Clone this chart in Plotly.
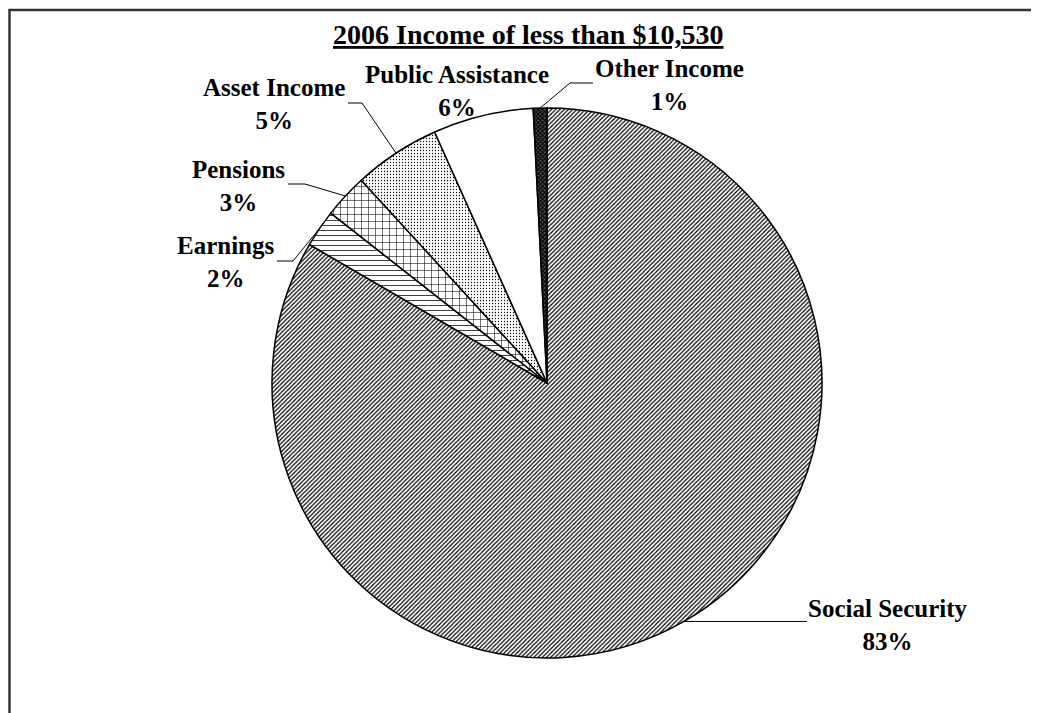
import math
import plotly.graph_objects as go

# ---- data ----
categories = ["Social Security", "Earnings", "Pensions", "Asset Income", "Public Assistance", "Other Income"]
values = [83.4, 2.2, 2.6, 5.1, 5.9, 0.8]
title_text = "2006 Income of less than $10,530"

# ---- layout constants (page pixels) ----
W, H = 1039, 713
OFF = 8  # default body margin of the html page
CX, CY, R = 547, 383, 275
FONT = "Liberation Serif"

def px_x(x):
    return (x - OFF) / W

def px_y(y):
    return 1 - (y - OFF) / H

# label block centres and leader elbows/ends (page pixel space)
label_pos = {
    "Social Security": dict(x=888, y=625, elbow=None, end=(807, None)),
    "Earnings": dict(x=226, y=262, elbow=(293, 261), end=(277, 261)),
    "Pensions": dict(x=238, y=186, elbow=(305, 184), end=(288, 184)),
    "Asset Income": dict(x=274, y=104, elbow=(362, 103), end=(348, 103)),
    "Public Assistance": dict(x=457, y=91, elbow=None, end=None),
    "Other Income": dict(x=669, y=85, elbow=(570, 83), end=(593, 83)),
}

pattern_shape = ["/", "-", "+", ".", "", "x"]
pattern_size = [3, 5, 7, 3, 8, 3]
pattern_solid = [0.4, 0.15, 0.15, 0.15, 0.0, 0.6]
fg = ["black", "black", "black", "black", "black", "black"]
bg = ["white", "white", "white", "white", "white", "#555555"]

fig = go.Figure()
fig.add_trace(go.Pie(
    labels=categories,
    values=values,
    sort=False,
    direction="clockwise",
    rotation=0,
    textinfo="none",
    hoverinfo="label+percent",
    showlegend=False,
    marker=dict(
        colors=bg,
        line=dict(color="black", width=1.5),
        pattern=dict(shape=pattern_shape, size=pattern_size, solidity=pattern_solid,
                     fgcolor=fg, bgcolor=bg, fillmode="replace"),
    ),
    domain=dict(x=[px_x(CX - R), px_x(CX + R)], y=[px_y(CY + R), px_y(CY - R)]),
))

total = sum(values)
annotations = []
shapes = []
cum = 0.0
for cat, v in zip(categories, values):
    mid = (cum + v / 2) / total * 360.0
    cum += v
    ex = CX + R * math.sin(math.radians(mid))
    ey = CY - R * math.cos(math.radians(mid))
    pct = round(v / total * 100)
    p = label_pos[cat]
    annotations.append(dict(
        x=px_x(p["x"]), y=px_y(p["y"]), xref="paper", yref="paper",
        text=f"<b>{cat}<br>{pct}%</b>", showarrow=False,
        xanchor="center", yanchor="middle", align="center",
        font=dict(family=FONT, size=25, color="black"),
    ))
    if p["end"] is not None:
        pts = [(ex, ey)]
        if p["elbow"] is not None:
            pts.append(p["elbow"])
            pts.append(p["end"])
        else:
            pts.append((p["end"][0], ey))
        path = "M " + " L ".join(f"{px_x(a)},{px_y(b)}" for a, b in pts)
        shapes.append(dict(type="path", path=path, xref="paper", yref="paper",
                           line=dict(color="black", width=1)))

annotations.append(dict(
    x=px_x(528), y=px_y(34), xref="paper", yref="paper",
    text=f"<b><u>{title_text}</u></b>", showarrow=False,
    xanchor="center", yanchor="middle",
    font=dict(family=FONT, size=28, color="black"),
))

# outer frame (left edge kept just inside the figure area)
shapes.append(dict(type="rect", xref="paper", yref="paper",
                   x0=px_x(9.5), x1=1.05, y0=-0.05, y1=px_y(10),
                   line=dict(color="#333333", width=2.5), fillcolor="rgba(0,0,0,0)"))

fig.update_layout(
    width=W, height=H,
    margin=dict(l=0, r=0, t=0, b=0),
    paper_bgcolor="white", plot_bgcolor="white",
    annotations=annotations, shapes=shapes,
)

fig.write_html("out.html")
